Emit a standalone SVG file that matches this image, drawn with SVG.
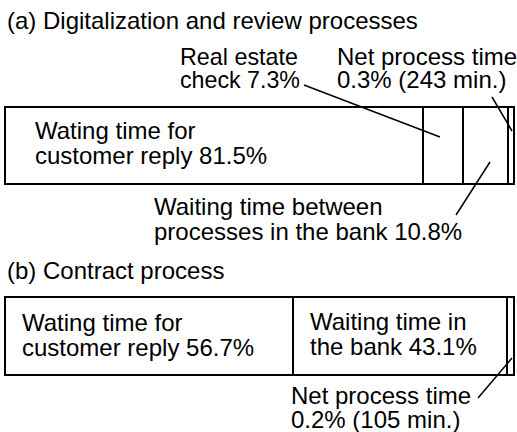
<svg xmlns="http://www.w3.org/2000/svg" width="517" height="432" viewBox="0 0 517 432">
  <style>
    text { font-family: "Liberation Sans", Arial, sans-serif; font-size: 24px; fill: #000; }
    .box { fill: #fff; stroke: #000; stroke-width: 2; }
    .div { stroke: #000; stroke-width: 2; }
    .lead { stroke: #000; stroke-width: 1.5; fill: none; }
  </style>
  <rect width="517" height="432" fill="#fff"/>

  <!-- (a) Digitalization and review processes -->
  <g id="title-a"><text x="7" y="29">(a) Digitalization and review processes</text></g>
  <g id="bar-a">
    <rect class="box" x="5" y="107" width="509" height="77"/>
    <line class="div" x1="423" y1="107" x2="423" y2="184"/>
    <line class="div" x1="463" y1="107" x2="463" y2="184"/>
    <line class="div" x1="508" y1="107" x2="508" y2="184"/>
  </g>
  <g id="a-customer-reply">
    <text x="35" y="139">Wating time for</text>
    <text x="35" y="164">customer reply 81.5%</text>
  </g>
  <g id="a-real-estate">
    <text x="180" y="65" textLength="118" lengthAdjust="spacingAndGlyphs">Real estate</text>
    <text x="180" y="88" textLength="120" lengthAdjust="spacingAndGlyphs">check 7.3%</text>
  </g>
  <g id="a-net-process">
    <text x="337" y="65">Net process time</text>
    <text x="337" y="88">0.3% (243 min.)</text>
  </g>
  <g id="a-bank-wait">
    <text x="154" y="215">Waiting time between</text>
    <text x="154" y="240">processes in the bank 10.8%</text>
  </g>

  <!-- (b) Contract process -->
  <g id="title-b"><text x="7" y="279">(b) Contract process</text></g>
  <g id="bar-b">
    <rect class="box" x="5" y="297" width="509" height="78"/>
    <line class="div" x1="293" y1="297" x2="293" y2="375"/>
    <line class="div" x1="507" y1="297" x2="507" y2="375"/>
  </g>
  <g id="b-customer-reply">
    <text x="22" y="331">Wating time for</text>
    <text x="22" y="356">customer reply 56.7%</text>
  </g>
  <g id="b-bank-wait">
    <text x="310" y="330">Waiting time in</text>
    <text x="310" y="355">the bank 43.1%</text>
  </g>
  <g id="b-net-process">
    <text x="291" y="404">Net process time</text>
    <text x="291" y="428">0.2% (105 min.)</text>
  </g>

  <!-- leader lines -->
  <g id="connectors">
    <line class="lead" x1="304" y1="85" x2="440" y2="137"/>
    <line class="lead" x1="492" y1="97" x2="512" y2="131"/>
    <line class="lead" x1="490" y1="162" x2="456" y2="215"/>
    <line class="lead" x1="512" y1="358" x2="478" y2="398"/>
  </g>
</svg>
